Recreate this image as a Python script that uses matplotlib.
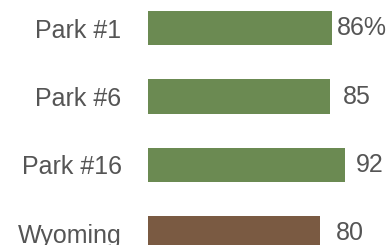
import matplotlib.pyplot as plt

# ── Data ──
categories = ['Park #1', 'Park #6', 'Park #16', 'Wyoming']
values = [86, 85, 92, 80]
value_labels = ['86%', '85', '92', '80']
bar_colors = ['#6b8a52', '#6b8a52', '#6b8a52', '#7a5a42']
label_offsets = [4, 13, 11, 16]   # px gap after bar end

TEXT = '#555555'
plt.rcParams['font.family'] = ['Liberation Sans', 'DejaVu Sans']

fig = plt.figure(figsize=(3.87, 2.45), dpi=100)
ax = fig.add_axes([148 / 387, 0, 214.5 / 387, 1])

ypos = list(range(len(categories)))
ax.barh(ypos, values, height=0.506, color=bar_colors, edgecolor='none')

ax.set_xlim(0, 100)
ax.set_ylim(3.168, -0.409)

for y, v, lab, off in zip(ypos, values, value_labels, label_offsets):
    ax.annotate(lab, xy=(v, y), xytext=(off * 0.72, 0), textcoords='offset points',
                ha='left', va='center', fontsize=18, color=TEXT,
                annotation_clip=False)

ax.set_yticks(ypos)
ax.set_yticklabels(categories, fontsize=18, color=TEXT)
ax.tick_params(axis='y', length=0, pad=19)
ax.set_xticks([])
for s in ax.spines.values():
    s.set_visible(False)

fig.savefig('out.png', dpi=100, facecolor='white')
